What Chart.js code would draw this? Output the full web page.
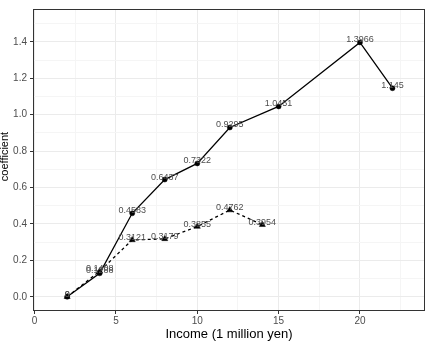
<!DOCTYPE html>
<html>
<head>
<meta charset="utf-8">
<script src="https://cdn.jsdelivr.net/npm/chart.js@4/dist/chart.umd.min.js"></script>
<style>
html,body{margin:0;padding:0;background:#fff;}
#wrap{width:430px;height:343px;position:relative;}
</style>
</head>
<body>
<div id="wrap"><canvas id="c"></canvas></div>
<script>
// Data
const incomeA = [2, 4, 6, 8, 10, 12, 15, 20, 22];
const coefA   = [0, 0.1288, 0.4583, 0.6437, 0.7322, 0.9295, 1.0451, 1.3966, 1.145];
const incomeB = [2, 4, 6, 8, 10, 12, 14];
const coefB   = [0, 0.1408, 0.3121, 0.3179, 0.3855, 0.4762, 0.3954];
const xMajorTicks = [0, 5, 10, 15, 20];
const yMajorTicks = [0.0, 0.2, 0.4, 0.6, 0.8, 1.0, 1.2, 1.4];
const xTitle = 'Income (1 million yen)';
const yTitle = 'coefficient';

const FONT = "'Liberation Sans', Arial, sans-serif";

function isMajorX(v){ return xMajorTicks.some(t => Math.abs(t - v) < 1e-6); }
function isMajorY(v){ return yMajorTicks.some(t => Math.abs(t - v) < 1e-6); }

const labelPlugin = {
  id: 'extras',
  afterDatasetsDraw(chart) {
    const ctx = chart.ctx;
    ctx.save();
    ctx.font = '9px ' + FONT;
    ctx.fillStyle = '#4d4d4d';
    ctx.textAlign = 'center';
    ctx.textBaseline = 'middle';
    chart.data.datasets.forEach((ds, i) => {
      const meta = chart.getDatasetMeta(i);
      meta.data.forEach((pt, j) => {
        ctx.fillText(String(ds.data[j].y), pt.x, pt.y - 2.5);
      });
    });
    ctx.restore();
  },
  afterDraw(chart) {
    const ctx = chart.ctx;
    const a = chart.chartArea;
    ctx.save();
    // panel border
    ctx.strokeStyle = '#333333';
    ctx.lineWidth = 1;
    ctx.strokeRect(Math.round(a.left) + 0.5, Math.round(a.top) + 0.5,
                   Math.round(a.right - a.left) - 1, Math.round(a.bottom - a.top) - 1);
    // x title
    ctx.fillStyle = '#000';
    ctx.font = '13px ' + FONT;
    ctx.textAlign = 'center';
    ctx.textBaseline = 'alphabetic';
    ctx.fillText(xTitle, (a.left + a.right) / 2, 338);
    // y title
    ctx.font = '11px ' + FONT;
    ctx.translate(7.5, 156.5);
    ctx.rotate(-Math.PI / 2);
    ctx.fillText(yTitle, 0, 0);
    ctx.restore();
  }
};

new Chart(document.getElementById('c'), {
  type: 'line',
  data: {
    datasets: [
      {
        data: incomeA.map((x, i) => ({x: x, y: coefA[i]})),
        borderColor: '#000', backgroundColor: '#000',
        borderWidth: 1.3, tension: 0,
        pointStyle: 'circle', pointRadius: 2.5, pointBorderWidth: 0.5,
        pointBackgroundColor: '#000', pointBorderColor: '#000'
      },
      {
        data: incomeB.map((x, i) => ({x: x, y: coefB[i]})),
        borderColor: '#000', backgroundColor: '#000',
        borderWidth: 1.3, tension: 0, borderDash: [3, 3],
        pointStyle: 'triangle', pointRadius: 3.5, pointBorderWidth: 0.5,
        pointBackgroundColor: '#000', pointBorderColor: '#000'
      }
    ]
  },
  options: {
    responsive: true,
    maintainAspectRatio: false,
    animation: false,
    layout: { padding: { top: 7, right: 5, left: 0, bottom: 0 } },
    plugins: { legend: { display: false }, tooltip: { enabled: false } },
    scales: {
      x: {
        type: 'linear', min: -0.1, max: 24, offset: false,
        afterBuildTicks(scale) {
          const t = [];
          for (let v = 0; v <= 22.5 + 1e-9; v += 2.5) t.push({value: v});
          scale.ticks = t;
        },
        afterFit(scale) { scale.height = 32; },
        ticks: {
          autoSkip: false, maxRotation: 0, padding: 1,
          color: '#4d4d4d', font: { family: FONT, size: 10 },
          callback: (v) => isMajorX(v) ? String(v) : ''
        },
        grid: {
          drawOnChartArea: true, drawTicks: true, tickLength: 3,
          color: (c) => isMajorX(c.tick.value) ? '#ebebeb' : '#f5f5f5',
          tickColor: (c) => isMajorX(c.tick.value) ? '#333333' : 'rgba(0,0,0,0)',
          lineWidth: 1
        },
        border: { display: false }
      },
      y: {
        type: 'linear', min: -0.078, max: 1.58,
        afterBuildTicks(scale) {
          const t = [];
          for (let k = 0; k <= 15; k++) t.push({value: k / 10});
          scale.ticks = t;
        },
        afterFit(scale) { scale.width = 33; },
        ticks: {
          autoSkip: false, padding: 3,
          color: '#4d4d4d', font: { family: FONT, size: 10 },
          callback: (v) => isMajorY(v) ? Number(v).toFixed(1) : ''
        },
        grid: {
          drawOnChartArea: true, drawTicks: true, tickLength: 3,
          color: (c) => isMajorY(c.tick.value) ? '#ebebeb' : '#f5f5f5',
          tickColor: (c) => isMajorY(c.tick.value) ? '#333333' : 'rgba(0,0,0,0)',
          lineWidth: 1
        },
        border: { display: false }
      }
    }
  },
  plugins: [labelPlugin]
});
</script>
</body>
</html>
